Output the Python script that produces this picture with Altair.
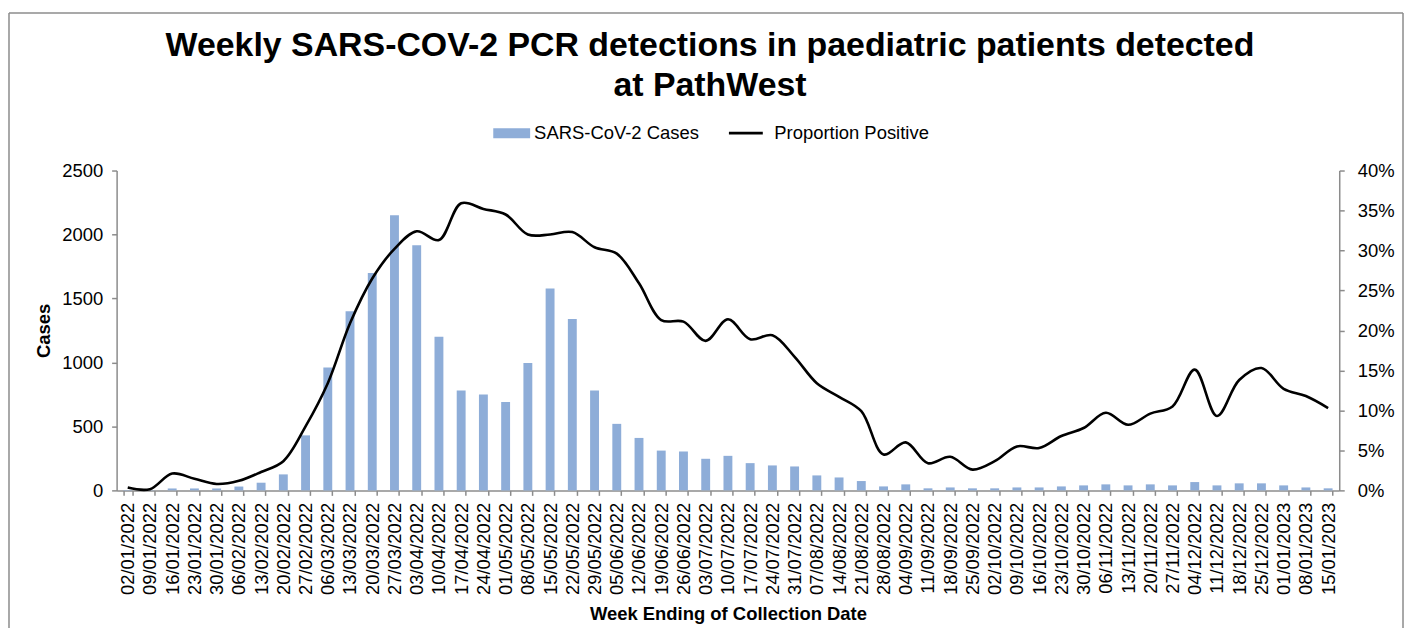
import altair as alt
import pandas as pd

weeks = [
    "02/01/2022", "09/01/2022", "16/01/2022", "23/01/2022", "30/01/2022", "06/02/2022",
    "13/02/2022", "20/02/2022", "27/02/2022", "06/03/2022", "13/03/2022", "20/03/2022",
    "27/03/2022", "03/04/2022", "10/04/2022", "17/04/2022", "24/04/2022", "01/05/2022",
    "08/05/2022", "15/05/2022", "22/05/2022", "29/05/2022", "05/06/2022", "12/06/2022",
    "19/06/2022", "26/06/2022", "03/07/2022", "10/07/2022", "17/07/2022", "24/07/2022",
    "31/07/2022", "07/08/2022", "14/08/2022", "21/08/2022", "28/08/2022", "04/09/2022",
    "11/09/2022", "18/09/2022", "25/09/2022", "02/10/2022", "09/10/2022", "16/10/2022",
    "23/10/2022", "30/10/2022", "06/11/2022", "13/11/2022", "20/11/2022", "27/11/2022",
    "04/12/2022", "11/12/2022", "18/12/2022", "25/12/2022", "01/01/2023", "08/01/2023",
    "15/01/2023",
]

cases = [
    3, 2, 15, 15, 15, 30, 60, 125, 430, 960, 1400, 1700, 2150, 1915, 1200, 780, 750, 690,
    995, 1578, 1340, 780, 520, 410, 311, 304, 247, 270, 213, 195, 187, 117, 101, 73, 31, 47,
    16, 23, 16, 16, 23, 23, 31, 39, 47, 39, 47, 39, 65, 39, 55, 55, 39, 23, 16,
]

proportion = [
    0.0035, 0.0015, 0.021, 0.0145, 0.008, 0.012, 0.023, 0.0365, 0.080, 0.134, 0.209, 0.265,
    0.302, 0.324, 0.313, 0.359, 0.352, 0.345, 0.320, 0.320, 0.323, 0.304, 0.296, 0.259,
    0.213, 0.211, 0.187, 0.214, 0.189, 0.194, 0.167, 0.134, 0.117, 0.099, 0.045, 0.060,
    0.034, 0.042, 0.026, 0.0365, 0.055, 0.053, 0.068, 0.078, 0.097, 0.082, 0.096, 0.105,
    0.151, 0.093, 0.138, 0.153, 0.127, 0.118, 0.103,
]

bar_label = "SARS-CoV-2 Cases"
line_label = "Proportion Positive"

df = pd.DataFrame({
    "week": weeks,
    "cases": cases,
    "prop": proportion,
    "bar_series": [bar_label] * len(weeks),
    "line_series": [line_label] * len(weeks),
})

FONT = "Liberation Sans"
AXIS_GRAY = "#8c8c8c"
BAR_BLUE = "#8EADD8"

x_enc = alt.X(
    "week:O",
    sort=weeks,
    scale=alt.Scale(paddingInner=0.6, paddingOuter=0.3),
    axis=alt.Axis(
        title="Week Ending of Collection Date",
        labelAngle=-90,
        tickBand="extent",
        tickSize=5,
        labelPadding=7,
        titlePadding=10,
    ),
)

bars = alt.Chart(df).mark_bar(color=BAR_BLUE).encode(
    x=x_enc,
    y=alt.Y(
        "cases:Q",
        scale=alt.Scale(domain=[0, 2500], nice=False),
        axis=alt.Axis(
            title="Cases",
            values=[0, 500, 1000, 1500, 2000, 2500],
            format="d",
            orient="left",
            tickSize=5,
            labelPadding=9,
            titlePadding=8,
        ),
    ),
    color=alt.Color(
        "bar_series:N",
        scale=alt.Scale(domain=[bar_label], range=[BAR_BLUE]),
        legend=alt.Legend(
            title=None,
            orient="none",
            legendX=378,
            legendY=-56,
            symbolType="M-1,-0.27L1,-0.27L1,0.27L-1,0.27Z",
            symbolSize=1369,
            symbolStrokeWidth=0,
            labelFontSize=18.5,
            labelFont=FONT,
            labelColor="#000000",
            labelOffset=4,
            labelLimit=400,
            padding=0,
        ),
    ),
)

line = alt.Chart(df).mark_line(strokeWidth=2.6, interpolate="catmull-rom").encode(
    x=x_enc,
    y=alt.Y(
        "prop:Q",
        scale=alt.Scale(domain=[0, 0.4], nice=False),
        axis=alt.Axis(
            title=None,
            orient="right",
            format=".0%",
            values=[0, 0.05, 0.1, 0.15, 0.2, 0.25, 0.3, 0.35, 0.4],
            tickSize=5,
            labelPadding=13,
        ),
    ),
    stroke=alt.Stroke(
        "line_series:N",
        scale=alt.Scale(domain=[line_label], range=["#000000"]),
        legend=alt.Legend(
            title=None,
            orient="none",
            legendX=613,
            legendY=-56,
            symbolType="stroke",
            symbolSize=1156,
            symbolStrokeWidth=2.6,
            labelFontSize=18.5,
            labelFont=FONT,
            labelColor="#000000",
            labelOffset=10,
            labelLimit=400,
            padding=0,
        ),
    ),
)

one = pd.DataFrame({"k": [0]})
border_left = alt.Chart(one).mark_rule(color="#8c8c8c", strokeWidth=1.5).encode(
    x=alt.value(-108), y=alt.value(-158), y2=alt.value(460)
)
border_right = alt.Chart(one).mark_rule(color="#8c8c8c", strokeWidth=1.5).encode(
    x=alt.value(1291), y=alt.value(-158), y2=alt.value(460)
)
border_top = alt.Chart(one).mark_rule(color="#8c8c8c", strokeWidth=1.5).encode(
    x=alt.value(-108), x2=alt.value(1291), y=alt.value(-158)
)

chart = (
    alt.layer(bars, line, border_left, border_right, border_top)
    .resolve_scale(y="independent", color="independent", stroke="independent")
    .properties(
        width=1227,
        height=321,
        autosize=alt.AutoSizeParams(type="none"),
        padding={"left": 109, "top": 162, "right": 66, "bottom": 137},
        title=alt.TitleParams(
            text=["Weekly SARS-COV-2 PCR detections in paediatric patients detected", "at PathWest"],
            fontSize=34,
            font=FONT,
            fontWeight="bold",
            color="#000000",
            anchor="middle",
            dx=-18,
            lineHeight=40,
            offset=-91,
        ),
    )
    .configure_view(stroke=None)
    .configure_axis(
        labelFont=FONT,
        labelFontSize=18.5,
        labelColor="#000000",
        titleFont=FONT,
        titleFontSize=18.5,
        titleFontWeight="bold",
        titleColor="#000000",
        domainColor=AXIS_GRAY,
        domainWidth=1.5,
        tickColor=AXIS_GRAY,
        tickWidth=1.5,
        grid=False,
    )
)

chart.save("out.html", embed_options={"renderer": "svg", "actions": False})
